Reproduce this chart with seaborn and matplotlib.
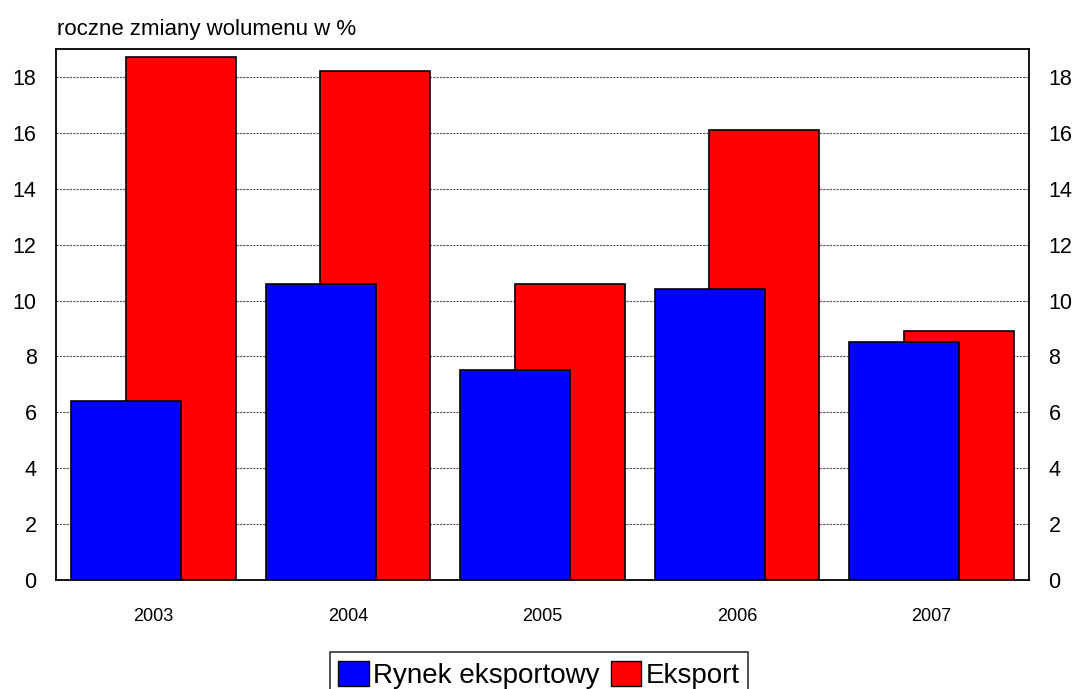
import matplotlib
matplotlib.use("Agg")
import matplotlib.pyplot as plt
import matplotlib.patches as mpatches
import seaborn as sns
import numpy as np

years = np.array([2003, 2004, 2005, 2006, 2007])
rynek = [6.4, 10.6, 7.5, 10.4, 8.5]
eksport = [18.7, 18.2, 10.6, 16.1, 8.9]
labels = ["Rynek eksportowy", "Eksport"]
colors = ["#0000ff", "#ff0000"]

sns.set_theme(style="white")
plt.rcParams['font.family'] = ['Liberation Sans', 'DejaVu Sans']
plt.rcParams['text.color'] = 'black'
plt.rcParams['xtick.color'] = 'black'
plt.rcParams['ytick.color'] = 'black'

fig = plt.figure(figsize=(10.78, 6.89), dpi=100)
ax = fig.add_axes([0.052, 0.158, 0.9025, 0.771])

offset = 0.14
# red bars behind, blue in front
sns.barplot(x=years + offset, y=eksport, native_scale=True, width=0.565,
            color=colors[1], saturation=1, edgecolor="black", linewidth=1.2,
            ax=ax, zorder=2)
sns.barplot(x=years - offset, y=rynek, native_scale=True, width=0.565,
            color=colors[0], saturation=1, edgecolor="black", linewidth=1.2,
            ax=ax, zorder=3)

ax.set_xlim(2002.5, 2007.5)
ax.set_ylim(0, 19)
ax.set_xticks(years)
ax.set_xticklabels([str(y) for y in years], fontsize=13)
ax.set_yticks(range(0, 19, 2))
ax.tick_params(axis="y", labelsize=15.5, left=False, right=False,
               labelleft=True, labelright=True, pad=8)
ax.tick_params(axis="x", bottom=False, pad=14)
ax.set_xlabel("")
ax.set_ylabel("")
ax.yaxis.grid(True, color="#555555", linestyle=(0, (2, 1)), linewidth=0.8, zorder=0)
ax.set_axisbelow(True)
for s in ax.spines.values():
    s.set_visible(True)
    s.set_color("black")
    s.set_linewidth(1.3)

fig.text(0.053, 0.957, "roczne zmiany wolumenu w %", fontsize=16, va="center", ha="left")

handles = [mpatches.Patch(facecolor=c, edgecolor="black", linewidth=1) for c in colors]
leg = fig.legend(handles, labels, loc="upper center", bbox_to_anchor=(0.5, 0.053),
                 ncol=2, fontsize=20, frameon=True, fancybox=False,
                 handlelength=1.1, handleheight=1.0, handletextpad=0.15,
                 columnspacing=0.4, borderpad=0.3, borderaxespad=0)
leg.get_frame().set_edgecolor("black")
leg.get_frame().set_linewidth(1.2)

fig.savefig("out.png", dpi=100)
